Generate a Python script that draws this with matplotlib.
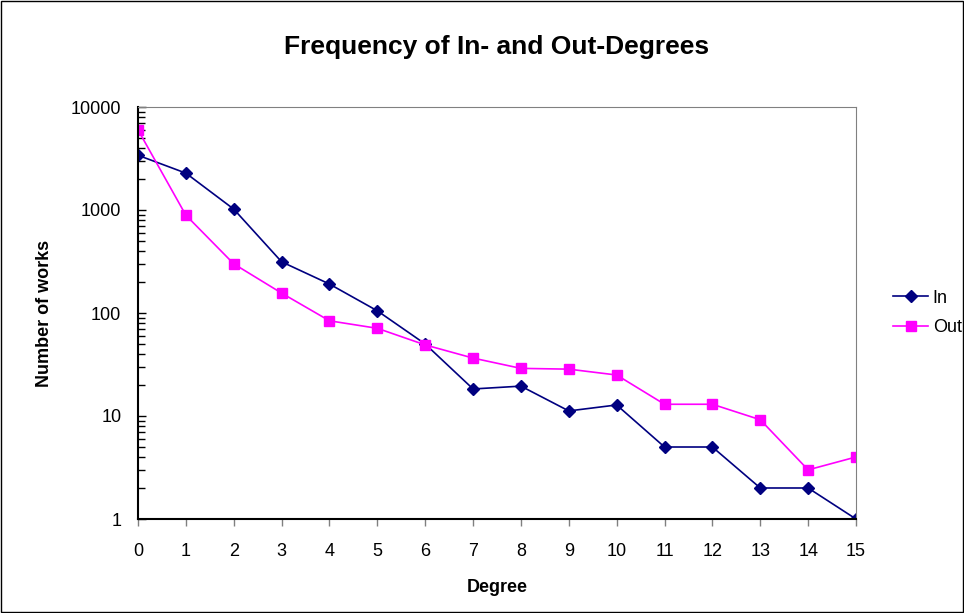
import matplotlib
matplotlib.use('Agg')
import matplotlib.pyplot as plt
from matplotlib.patches import Rectangle
from matplotlib.ticker import LogLocator, NullFormatter, FixedFormatter, FixedLocator

plt.rcParams['font.family'] = ['Liberation Sans', 'DejaVu Sans']

# data
degrees = list(range(16))
in_counts = [3400, 2280, 1020, 314, 191, 105, 50, 18.3, 19.5, 11.2, 12.8, 5, 5, 2, 2, 1]
out_counts = [6000, 890, 300, 156, 84, 71, 49, 36.5, 29, 28.5, 25, 13, 13, 9.2, 3, 4]
y_ticks = [1, 10, 100, 1000, 10000]
y_labels = ['1', '10', '100', '1000', '10000']

fig = plt.figure(figsize=(9.64, 6.13), dpi=100)
fig.patches.append(Rectangle((0.001, 0.001), 0.998, 0.997, transform=fig.transFigure,
                             fill=False, edgecolor='black', linewidth=1))

ax = fig.add_axes([138 / 964, 94 / 613, 718 / 964, 412 / 613])

ax.plot(degrees, in_counts, color='#000080', marker='D', markersize=6,
        linewidth=1.2, label='In')
ax.plot(degrees, out_counts, color='#FF00FF', marker='s', markersize=6.5,
        linewidth=1.2, label='Out')

ax.set_yscale('log')
ax.set_ylim(1, 10000)
ax.set_xlim(0, 15)
ax.yaxis.set_major_locator(FixedLocator(y_ticks))
ax.yaxis.set_major_formatter(FixedFormatter(y_labels))
ax.yaxis.set_minor_locator(LogLocator(base=10, subs=range(2, 10)))
ax.yaxis.set_minor_formatter(NullFormatter())
ax.set_xticks(degrees)

ax.tick_params(axis='y', which='major', direction='in', length=6, width=1,
               labelsize=13, pad=12)
ax.tick_params(axis='y', which='minor', direction='in', length=5, width=1)
ax.tick_params(axis='x', direction='out', length=5, width=1, color='gray',
               labelsize=13, pad=12)

for side in ['top', 'right']:
    ax.spines[side].set_color('gray')
for side in ['left', 'bottom']:
    ax.spines[side].set_color('black')
    ax.spines[side].set_linewidth(1.5)

ax.set_title('Frequency of In- and Out-Degrees', fontsize=19, fontweight='bold', pad=38)
ax.set_xlabel('Degree', fontsize=13, fontweight='bold', labelpad=14)
ax.set_ylabel('Number of works', fontsize=13, fontweight='bold', labelpad=13)

ax.legend(loc='center left', bbox_to_anchor=(1.0515, 0.5), frameon=False,
          borderaxespad=0, borderpad=0,
          fontsize=13, handlelength=1.95, handletextpad=0.25, labelspacing=0.7)

fig.savefig('out.png', dpi=100)
